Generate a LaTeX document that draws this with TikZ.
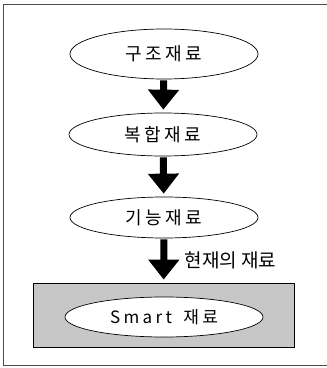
\documentclass[tikz,border=0pt]{standalone}
\usepackage{fontspec}
\newfontfamily\kr{Noto Sans CJK KR}
\newfontfamily\krsp[LetterSpace=20]{Noto Sans CJK KR}
\usetikzlibrary{arrows.meta}
\usetikzlibrary{shapes.geometric}
\tikzset{
      stage/.style={ellipse, draw=black, fill=white, line width=0.7pt, inner sep=0pt,
            font=\krsp\fontsize{18}{20}\selectfont},
      now/.style={rectangle, draw=black, fill=black!22, line width=0.8pt},
      flow/.style={draw=black, line width=7pt, shorten >=3pt, shorten <=1pt,
            -{Triangle[width=30pt,length=20pt]}},
      frame/.style={draw=black!70, line width=1pt},
}

\begin{document}
\begin{tikzpicture}[x=1pt,y=1pt]
        \useasboundingbox (0,0) rectangle (327,368);

        % Draw the frame
        \draw[frame] (327,364) -- (4,364) -- (4,3) -- (327,3);

        % Draw the stages
        \node[stage, minimum width=188pt, minimum height=50pt] (struct) at (164,314) {구조재료};
        \node[stage, minimum width=188pt, minimum height=43pt] (comp) at (163,233.5) {복합재료};
        \node[stage, minimum width=188pt, minimum height=41pt] (func) at (164,150.5) {기능재료};

        \node[now, minimum width=261pt, minimum height=64pt] (box) at (163.5,53) {};
        \node[stage, minimum width=198pt, minimum height=40pt, font=\krsp\fontsize{17}{20}\selectfont] (smart) at (164,51) {Smart\hspace{4pt} 재료};

        % Draw the arrows
        \draw[flow] (struct) -- (comp);
        \draw[flow] (comp) -- (func);
        \draw[flow] (func) -- (box) node[midway,right=14pt,font=\kr\fontsize{19}{20}\selectfont] {현재의 재료};

    \end{tikzpicture}
\end{document}
